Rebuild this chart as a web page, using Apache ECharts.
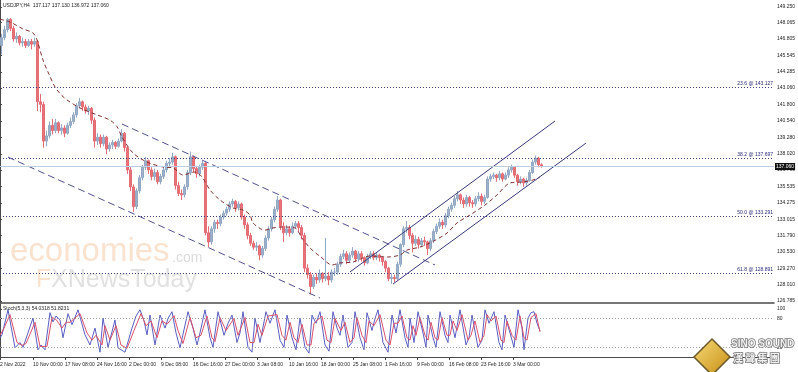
<!DOCTYPE html>
<html><head><meta charset="utf-8">
<script src="https://cdn.jsdelivr.net/npm/echarts@6/dist/echarts.min.js"></script>
<style>html,body{margin:0;padding:0;background:#fff}#c{width:798px;height:372px}</style>
</head><body><div id="c"></div>
<script>
const titleText = 'USDJPY,H4  137.117 137.130 136.972 137.060';
const stochText = 'Stoch(5,3,3) 54.0318 51.8231';
const priceTicks = [126.785,128.010,129.270,130.530,131.790,133.015,134.275,135.535,136.790,138.020,139.280,140.540,141.800,143.060,144.285,145.545,146.805,148.065,149.250];
const stochTicks = [0,20,80,100];
const timeBars = [0,33,65,97,129,161,193,225,257,289,321,353,385,417,449,481,513];
const timeLabels = ['2 Nov 2022','10 Nov 00:00','17 Nov 08:00','24 Nov 16:00','2 Dec 00:00','9 Dec 08:00','16 Dec 16:00','27 Dec 00:00','3 Jan 08:00','10 Jan 16:00','18 Jan 00:00','25 Jan 08:00','1 Feb 16:00','9 Feb 00:00','16 Feb 08:00','23 Feb 16:00','3 Mar 00:00'];
const fibLevels = [143.127,137.697,133.291,128.891];
const fibNames = ['23.6','38.2','50.0','61.8'];
const bidPrice = 137.06;
// candles: [open, close, low, high], one per 3 H4 bars
const candles = [
[146.3,146.9,145.6,147.2],[146.9,147.5,146.7,147.8],[147.5,148.3,147.3,148.4],[148.3,147.6,147.4,148.4],
[147.6,146.8,146.6,147.8],[146.8,147.0,146.5,147.3],[147.0,146.5,146.3,147.1],[146.5,146.6,146.2,146.9],
[146.6,146.3,146.1,146.8],[146.3,146.6,146.2,146.8],[146.6,146.4,146.0,146.8],[146.4,146.6,146.2,146.9],
[146.6,142.0,141.3,146.7],[142.0,141.8,141.2,142.6],[141.8,139.0,138.5,142.0],[139.0,139.4,138.6,139.8],
[139.4,140.2,139.2,140.5],[140.2,139.8,139.5,140.7],[139.8,140.4,139.6,140.7],[140.4,139.8,139.6,140.5],
[139.8,140.0,139.5,140.3],[140.0,139.6,139.3,140.2],[139.6,140.2,139.5,140.4],[140.2,140.5,140.0,140.8],
[140.5,141.0,140.3,141.2],[141.0,141.7,140.8,141.9],[141.7,142.0,141.5,142.3],[142.0,141.6,141.3,142.1],
[141.6,141.3,141.1,141.8],[141.3,141.5,141.0,141.7],[141.5,140.6,140.3,141.6],[140.6,139.0,138.5,140.8],
[139.0,139.3,138.7,139.6],[139.3,138.8,138.5,139.5],[138.8,139.3,138.6,139.5],[139.3,138.4,138.0,139.4],
[138.4,138.7,138.2,138.9],[138.7,138.9,138.4,139.1],[138.9,138.6,138.4,139.0],[138.6,139.0,138.5,139.2],
[139.0,139.6,138.9,139.9],[139.6,138.5,138.2,139.7],[138.5,136.8,136.5,138.6],[136.8,135.5,135.2,137.0],
[135.5,134.0,133.6,135.7],[134.0,135.2,133.8,135.4],[135.2,136.2,135.0,136.4],[136.2,137.0,136.0,137.2],
[137.0,137.5,136.8,137.8],[137.5,136.8,136.5,137.6],[136.8,136.3,136.0,137.0],[136.3,136.6,136.0,136.9],
[136.6,135.9,135.7,136.8],[135.9,136.3,135.7,136.5],[136.3,136.8,136.1,137.0],[136.8,137.3,136.6,137.5],
[137.3,137.4,137.0,137.7],[137.4,137.8,137.2,138.1],[137.8,135.6,135.3,137.9],[135.6,135.0,134.8,135.9],
[135.0,134.9,134.5,135.3],[134.9,135.5,134.7,135.7],[135.5,136.6,135.3,136.8],[136.6,137.8,136.4,138.2],
[137.8,136.9,136.6,137.9],[136.9,136.5,136.2,137.1],[136.5,137.0,136.3,137.2],[137.0,137.3,136.8,137.5],
[137.3,132.0,131.8,137.4],[132.0,131.3,130.9,132.5],[131.3,132.3,131.1,132.5],[132.3,132.8,132.0,133.0],
[132.8,132.7,132.3,133.0],[132.7,133.2,132.5,133.4],[133.2,133.5,133.0,133.7],[133.5,133.8,133.3,134.0],
[133.8,134.2,133.6,134.4],[134.2,134.4,134.0,134.6],[134.4,133.9,133.6,134.5],[133.9,134.2,133.7,134.4],
[134.2,133.2,133.0,134.3],[133.2,132.6,132.3,133.4],[132.6,131.8,131.5,132.8],[131.8,131.2,131.0,132.0],
[131.2,130.9,130.7,131.4],[130.9,131.0,130.6,131.3],[131.0,130.3,129.9,131.1],[130.3,130.8,130.1,131.0],
[130.8,131.6,130.6,131.8],[131.6,132.3,131.4,132.5],[132.3,133.0,132.1,133.2],[133.0,133.8,132.8,134.0],
[133.8,134.5,133.6,134.8],[134.5,132.5,132.2,134.6],[132.5,132.0,131.3,132.8],[132.0,132.3,131.8,132.6],
[132.3,132.0,131.7,132.5],[132.0,132.5,131.9,132.8],[132.5,132.7,132.3,132.9],[132.7,132.4,132.1,132.9],
[132.4,131.8,131.5,132.6],[131.8,129.3,129.0,132.0],[129.3,128.8,128.5,129.6],[128.8,127.9,127.3,129.0],
[127.9,128.6,127.7,128.8],[128.6,128.4,128.1,128.9],[128.4,128.9,128.2,129.2],[128.9,128.5,128.2,129.0],
[128.5,128.7,128.3,131.6],[128.7,128.4,128.0,129.0],[128.4,129.0,128.2,129.2],[129.0,129.0,128.7,129.3],
[129.0,129.6,128.8,129.8],[129.6,130.2,129.4,130.4],[130.2,130.4,130.0,130.7],[130.4,129.9,129.6,130.6],
[129.9,130.3,129.7,130.5],[130.3,130.6,130.1,130.9],[130.6,130.0,129.8,130.7],[130.0,130.4,129.8,130.6],
[130.4,130.1,129.8,130.6],[130.1,129.7,129.5,130.2],[129.7,130.2,129.6,130.4],[130.2,130.4,130.0,130.6],
[130.4,130.1,129.9,130.6],[130.1,130.3,129.9,130.5],[130.3,130.1,129.8,130.4],[130.1,129.8,129.5,130.2],
[129.8,129.3,129.0,129.9],[129.3,128.5,128.3,129.4],[128.5,128.6,128.1,128.9],[128.6,128.5,128.2,128.8],
[128.5,129.6,128.4,129.8],[129.6,131.1,129.4,131.2],[131.1,132.3,130.9,132.5],[132.3,132.4,132.0,132.9],
[132.4,131.8,131.5,132.6],[131.8,131.2,130.5,132.0],[131.2,131.5,131.0,131.8],[131.5,131.1,130.8,131.7],
[131.1,131.4,130.9,131.6],[131.4,131.3,131.0,131.7],[131.3,130.8,130.3,131.4],[130.8,131.4,130.6,131.6],
[131.4,132.1,131.2,132.3],[132.1,132.5,131.9,132.7],[132.5,132.8,132.3,133.1],[132.8,132.6,132.3,133.0],
[132.6,133.3,132.4,133.5],[133.3,133.8,133.1,134.0],[133.8,134.1,133.6,134.3],[134.1,134.6,133.9,134.8],
[134.6,134.9,134.4,135.2],[134.9,134.5,134.2,135.0],[134.5,134.2,133.9,134.7],[134.2,134.7,134.0,134.9],
[134.7,134.3,134.0,134.8],[134.3,134.2,133.9,134.5],[134.2,134.6,134.0,134.8],[134.6,134.8,134.4,135.1],
[134.8,134.4,134.1,135.0],[134.4,134.7,134.2,134.9],[134.7,136.1,134.6,136.3],[136.1,136.3,135.9,136.5],
[136.3,136.4,136.1,136.6],[136.4,136.2,135.9,136.5],[136.2,136.5,136.0,136.7],[136.5,136.1,135.9,136.6],
[136.1,136.4,136.0,136.6],[136.4,136.8,136.2,137.0],[136.8,137.0,136.6,137.2],[137.0,136.4,136.2,137.1],
[136.4,135.9,135.6,136.5],[135.9,136.1,135.7,136.3],[136.1,135.8,135.5,136.2],[135.8,136.0,135.6,136.2],
[136.0,136.6,135.9,136.8],[136.6,137.4,136.5,137.6],[137.4,137.7,137.2,137.9],[137.7,137.2,137.0,137.8],
[137.2,137.06,136.97,137.3]
];
// moving average: H4 bar position and value
const maBars = [0,10,22,33,37,43,49,55,61,67,80,97,110,117,122,133,147,163,173,183,195,202,210,220,233,243,250,253,265,273,282,295,302,310,322,332,340,353,370,387,400,407,420,432,447,457,470,485,497,510,523,533,540];
const maValues = [148.3,148.09,147.6,147.25,146.72,145.19,144.1,143.13,142.55,142.14,141.53,141.0,140.6,140.1,139.31,138.09,137.4,137.02,136.95,136.41,136.64,136.26,135.27,134.5,133.89,133.74,133.36,132.75,132.2,132.37,132.44,132.37,131.6,130.84,130.08,129.54,129.7,129.77,130.23,130.15,130.3,130.68,130.91,131.3,131.98,132.75,133.36,134.12,134.89,135.8,135.88,136.03,136.26];
// trend channels: [bar, price]
const downUpper = [[122,140.30],[435,129.54]];
const downLower = [[8,137.78],[320,127.02]];
const upUpper = [[350,129.01],[555,140.53]];
const upLower = [[393,128.09],[586,138.85]];
// stochastic turning points: [bar, value]
const stochK = [[0,40],[2,46],[8,98],[15,19],[20,30],[23,20],[33,81],[38,15],[41,25],[45,15],[50,92],[53,73],[56,85],[60,77],[63,40],[68,90],[72,67],[78,98],[85,46],[90,25],[95,60],[100,10],[103,81],[108,20],[115,77],[118,19],[125,10],[132,60],[136,85],[140,98],[144,75],[147,46],[150,87],[155,25],[160,87],[165,60],[168,80],[172,94],[176,50],[180,19],[188,94],[193,60],[197,25],[200,50],[205,98],[210,40],[213,20],[218,94],[224,45],[228,70],[232,87],[237,30],[240,50],[243,94],[248,20],[252,10],[255,81],[260,30],[266,94],[270,70],[275,98],[280,35],[284,20],[287,87],[292,40],[296,15],[300,81],[305,20],[309,8],[312,87],[316,70],[320,94],[325,25],[329,12],[333,94],[337,60],[340,45],[343,87],[348,20],[352,30],[355,94],[360,40],[364,15],[367,92],[372,55],[375,80],[378,98],[383,30],[388,10],[392,87],[396,50],[400,98],[405,40],[408,20],[410,81],[414,30],[418,94],[423,50],[426,20],[428,87],[433,40],[436,20],[440,94],[445,45],[448,30],[450,87],[455,40],[460,98],[466,25],[469,40],[472,87],[478,20],[482,35],[485,98],[489,70],[494,94],[499,30],[502,15],[505,87],[510,50],[514,20],[518,98],[522,60],[524,15],[528,81],[531,92],[534,94],[537,70],[540,54]];
const stochD = [[0,45],[4,60],[10,88],[17,30],[22,24],[26,28],[35,72],[40,22],[47,22],[52,82],[56,78],[62,60],[66,72],[70,72],[80,90],[87,50],[92,35],[96,45],[102,25],[105,65],[110,35],[116,65],[121,25],[127,18],[134,55],[141,90],[146,65],[151,75],[157,40],[162,75],[167,68],[174,86],[178,55],[183,28],[190,82],[196,40],[201,45],[207,85],[212,40],[215,32],[220,82],[226,55],[234,80],[238,45],[245,82],[250,30],[254,30],[258,68],[262,45],[268,85],[277,88],[282,45],[286,35],[290,72],[294,40],[298,30],[302,68],[307,25],[311,25],[314,70],[322,85],[327,35],[331,30],[335,80],[341,55],[345,72],[350,30],[354,40],[357,82],[362,45],[366,30],[369,75],[374,65],[380,88],[386,35],[390,25],[394,70],[398,70],[402,85],[407,40],[410,35],[413,65],[416,45],[420,82],[425,45],[428,35],[431,72],[435,40],[438,35],[442,82],[447,45],[450,45],[453,75],[457,55],[462,88],[468,35],[471,45],[475,75],[480,30],[484,45],[487,88],[491,75],[496,85],[501,35],[504,30],[507,75],[512,45],[516,35],[520,85],[524,40],[527,35],[531,82],[536,90],[540,52]];
const stochLevels = [20,80];

const FONT = 'Liberation Sans';
const cats = Array.from({length: 258}, (_, i) => String(i));
const chart = echarts.init(document.getElementById('c'), null, {renderer: 'canvas'});

const fibMarks = fibLevels.map((v, i) => ({
  yAxis: v,
  lineStyle: {color: '#40407a', type: [1, 2], width: 1},
  label: {show: true, position: 'insideEndTop', formatter: fibNames[i] + ' @ ' + v.toFixed(3), fontSize: 5, color: '#2a2a78', fontFamily: FONT, distance: 1}
}));
const bidMark = {
  yAxis: bidPrice,
  lineStyle: {color: '#bccde0', type: 'solid', width: 1},
  label: {show: true, position: 'end', formatter: bidPrice.toFixed(3), fontSize: 5, color: '#fff', backgroundColor: '#111', padding: [1, 1], distance: 1, fontFamily: FONT}
};

const axisColor = '#4a4a4a';
const option = {
  animation: false,
  backgroundColor: '#fff',
  grid: [
    {left: 0, top: 0, width: 774, height: 303, outerBoundsMode: 'none'},
    {left: 0, top: 304, width: 774, height: 53, outerBoundsMode: 'none'}
  ],
  xAxis: [
    {type: 'category', gridIndex: 0, data: cats, boundaryGap: true,
     axisLine: {show: true, onZero: false, lineStyle: {color: axisColor, width: 1.5}},
     axisTick: {show: false}, axisLabel: {show: false}, splitLine: {show: false}},
    {type: 'value', gridIndex: 0, min: 0, max: 774, show: false},
    {type: 'value', gridIndex: 1, min: 0, max: 774, position: 'bottom',
     axisLine: {show: true, onZero: false, lineStyle: {color: axisColor}},
     axisTick: {show: true, customValues: timeBars, length: 3, lineStyle: {color: axisColor}},
     axisLabel: {customValues: timeBars, formatter: v => timeLabels[timeBars.indexOf(v)] || '', align: 'left',
       fontSize: 5, color: '#222', margin: 5, fontFamily: FONT},
     splitLine: {show: false}}
  ],
  yAxis: [
    {type: 'value', gridIndex: 0, position: 'right', min: 126.64, max: 149.77,
     axisLine: {show: true, lineStyle: {color: axisColor}},
     axisTick: {show: true, customValues: priceTicks, length: 2, lineStyle: {color: axisColor}},
     axisLabel: {customValues: priceTicks, formatter: v => v.toFixed(3), fontSize: 5, margin: 3, color: '#222', fontFamily: FONT},
     splitLine: {show: false}},
    {type: 'value', gridIndex: 1, position: 'right', min: 0, max: 110,
     axisLine: {show: true, lineStyle: {color: axisColor}},
     axisTick: {show: true, customValues: stochTicks, length: 2, lineStyle: {color: axisColor}},
     axisLabel: {customValues: stochTicks, formatter: v => String(v), fontSize: 5, margin: 3, color: '#222', fontFamily: FONT},
     splitLine: {show: false}}
  ],
  series: [
    {type: 'candlestick', xAxisIndex: 0, yAxisIndex: 0, data: candles, barWidth: 1.6,
     itemStyle: {color: '#9db0c9', color0: '#e8727a', borderColor: '#93a8c3', borderColor0: '#e46c74', borderWidth: 1},
     markLine: {symbol: 'none', silent: true, animation: false, data: [...fibMarks, bidMark]}},
    {type: 'line', xAxisIndex: 1, yAxisIndex: 0, data: maBars.map((b, i) => [b, maValues[i]]),
     showSymbol: false, smooth: 0.3, lineStyle: {color: '#7e2f2f', width: 1, type: [4, 3]}, z: 3},
    {type: 'line', xAxisIndex: 1, yAxisIndex: 0, data: downUpper, showSymbol: false,
     lineStyle: {color: '#50508a', width: 1, type: [7, 4]}},
    {type: 'line', xAxisIndex: 1, yAxisIndex: 0, data: downLower, showSymbol: false,
     lineStyle: {color: '#50508a', width: 1, type: [7, 4]}},
    {type: 'line', xAxisIndex: 1, yAxisIndex: 0, data: upUpper, showSymbol: false,
     lineStyle: {color: '#3a3a7c', width: 1}},
    {type: 'line', xAxisIndex: 1, yAxisIndex: 0, data: upLower, showSymbol: false,
     lineStyle: {color: '#3a3a7c', width: 1}},
    {type: 'line', xAxisIndex: 2, yAxisIndex: 1, data: stochK, showSymbol: false,
     lineStyle: {color: '#5a5ec0', width: 1},
     markLine: {symbol: 'none', silent: true, animation: false,
       data: stochLevels.map(v => ({yAxis: v})), label: {show: false},
       lineStyle: {color: '#a0a0a0', type: [1, 2], width: 1}}},
    {type: 'line', xAxisIndex: 2, yAxisIndex: 1, data: stochD, showSymbol: false,
     lineStyle: {color: '#d9506a', width: 1}}
  ],
  graphic: {elements: [
    {type: 'text', x: 3, y: 3, z: 10, style: {text: titleText, font: '5px ' + FONT, fill: '#222'}},
    {type: 'text', x: 3, y: 306, z: 10, style: {text: stochText, font: '5px ' + FONT, fill: '#222'}},
    {type: 'text', x: 10, y: 252, z: 0, style: {text: 'economies', font: '33px ' + FONT, fill: 'rgba(240,178,125,0.38)', textVerticalAlign: 'middle'}},
    {type: 'text', x: 172, y: 258, z: 0, style: {text: '.com', font: '14px ' + FONT, fill: 'rgba(170,170,170,0.42)', textVerticalAlign: 'middle'}},
    {type: 'text', x: 36, y: 280, z: 0, style: {text: 'F', font: '25px ' + FONT, fill: 'rgba(240,178,125,0.38)', textVerticalAlign: 'middle'}},
    {type: 'text', x: 51, y: 280, z: 0, style: {text: 'XNewsToday', font: '25px ' + FONT, fill: 'rgba(175,175,175,0.38)', textVerticalAlign: 'middle'}},
    {type: 'polygon', z: 50, shape: {points: [[712, 339], [730, 357], [712, 375], [694, 357]]},
     style: {fill: new echarts.graphic.LinearGradient(0, 0, 1, 1, [{offset: 0, color: '#f7dc7a'}, {offset: 1, color: '#c68c12'}]), stroke: '#6d5a28', lineWidth: 1.5}},
    {type: 'text', x: 731, y: 344, z: 51, style: {text: 'SINO SOUND', font: 'bold 10px ' + FONT, fill: '#f2f2f2', stroke: '#7a7a7a', lineWidth: 1.5, textVerticalAlign: 'middle'}},
    {type: 'text', x: 733, y: 358, z: 51, style: {text: '漢 聲 集 團', font: 'bold 10px "Noto Sans CJK TC"', fill: '#f2f2f2', stroke: '#7a7a7a', lineWidth: 1.5, textVerticalAlign: 'middle'}}
  ]}
};
chart.setOption(option);
</script>
</body></html>
